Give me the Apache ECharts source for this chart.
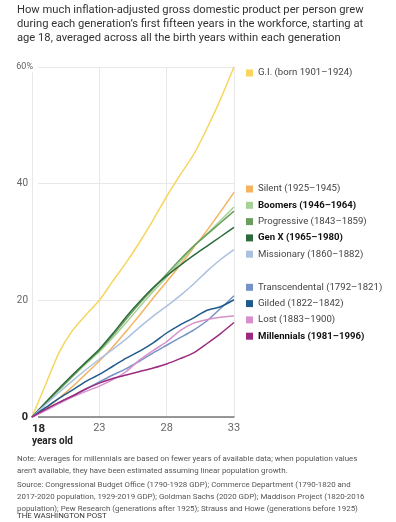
<!DOCTYPE html>
<html>
<head>
<meta charset="utf-8">
<script src="https://cdn.jsdelivr.net/npm/echarts@6/dist/echarts.min.js"></script>
<style>
  html, body { margin: 0; padding: 0; background: #fff; }
  #chart { width: 396px; height: 522px; }
</style>
</head>
<body>
<div id="chart"></div>
<script>
// age in the workforce (x axis)
const ages = [18, 19, 20, 21, 22, 23, 24, 25, 26, 27, 28, 29, 30, 31, 32, 33];

// cumulative GDP-per-person growth, percent
const giValues             = [0, 5.5, 11, 14.8, 17.5, 20, 23.3, 26.5, 30, 33.8, 37.8, 41.5, 45, 49.5, 54.5, 60];
const silentValues         = [0, 1.5, 3.2, 5.2, 7.4, 9.6, 12, 14.7, 17.5, 20.4, 23.2, 26, 29, 32, 35.2, 38.5];
const boomersValues        = [0, 2.3, 4.6, 6.9, 9.1, 11.2, 13.6, 16.2, 18.9, 21.5, 24, 26.6, 29.2, 31.4, 33.7, 36];
const progressiveValues    = [0, 2.3, 4.7, 7, 9.3, 11.4, 14, 16.8, 19.5, 22, 24.5, 27, 29.3, 31.3, 33.3, 35.3];
const genXValues           = [0, 2.5, 4.9, 7.2, 9.4, 11.6, 14.3, 17.2, 19.8, 22.2, 24.2, 26, 27.7, 29.3, 30.9, 32.5];
const missionaryValues     = [0, 2.1, 4.2, 6.2, 8.1, 9.9, 11.6, 13.4, 15.4, 17.3, 19, 20.8, 22.8, 25, 27, 28.7];
const transcendentalValues = [0, 1.2, 2.4, 3.6, 4.8, 6, 7.2, 8.3, 9.6, 11, 12.3, 13.6, 14.9, 16.5, 18.6, 20.8];
const gildedValues         = [0, 1.6, 3.2, 4.6, 6.1, 7.3, 8.7, 10.1, 11.3, 12.7, 14.4, 15.8, 17, 18.3, 18.9, 20.1];
const lostValues           = [0, 1.1, 2.3, 3.4, 4.4, 5.3, 6.4, 7.8, 9.8, 11.4, 12.9, 14.8, 16.1, 16.7, 17.1, 17.3];
const millennialsValues    = [0, 1.3, 2.5, 3.6, 4.8, 5.8, 6.6, 7.2, 7.8, 8.4, 9.1, 10, 11, 12.6, 14.3, 16.2];

const xTicks = [18, 23, 28, 33];
const yTicks = [0, 20, 40, 60];

const generations = [
  { name: 'G.I. (born 1901–1924)',     values: giValues,             color: '#f7d55e', bold: false },
  { name: 'Silent (1925–1945)',        values: silentValues,         color: '#f4b35f', bold: false },
  { name: 'Boomers (1946–1964)',       values: boomersValues,        color: '#a3d196', bold: true },
  { name: 'Progressive (1843–1859)',   values: progressiveValues,    color: '#6b9e5e', bold: false },
  { name: 'Gen X (1965–1980)',         values: genXValues,           color: '#2d6b3d', bold: true },
  { name: 'Missionary (1860–1882)',    values: missionaryValues,     color: '#abc1e0', bold: false },
  { name: 'Transcendental (1792–1821)', values: transcendentalValues, color: '#7593c4', bold: false },
  { name: 'Gilded (1822–1842)',        values: gildedValues,         color: '#1f5b8c', bold: false },
  { name: 'Lost (1883–1900)',          values: lostValues,           color: '#d790cb', bold: false },
  { name: 'Millennials (1981–1996)',   values: millennialsValues,    color: '#9c2b80', bold: true }
];

const legendItem = g => ({
  name: g.name,
  textStyle: g.bold ? { fontWeight: 'bold', color: '#111' } : {}
});

const legendBase = {
  orient: 'vertical',
  left: 241,
  icon: 'rect',
  itemWidth: 7,
  itemHeight: 7,
  itemGap: 3.3,
  selectedMode: false,
  textStyle: { fontFamily: 'Roboto', fontSize: 9.6, color: '#444', lineHeight: 13 }
};

const noteStyle = { fontFamily: 'Roboto', fontSize: 7.9, fontWeight: 'normal', color: '#555', lineHeight: 12 };

const myChart = echarts.init(document.getElementById('chart'));

const option = {
  animation: false,
  textStyle: { fontFamily: 'Roboto' },
  title: [
    {
      left: 17, top: 3, padding: 0,
      text: 'How much inflation-adjusted gross domestic product per person grew\n' +
            'during each generation’s first fifteen years in the workforce, starting at\n' +
            'age 18, averaged across all the birth years within each generation',
      textStyle: { fontFamily: 'Roboto', fontSize: 11.2, fontWeight: 'normal', color: '#333', lineHeight: 14 }
    },
    {
      left: 17, top: 453, padding: 0,
      text: 'Note: Averages for millennials are based on fewer years of available data; when population values\n' +
            'aren’t available, they have been estimated assuming linear population growth.',
      textStyle: noteStyle
    },
    {
      left: 17, top: 479, padding: 0,
      text: 'Source: Congressional Budget Office (1790-1928 GDP); Commerce Department (1790-1820 and\n' +
            '2017-2020 population, 1929-2019 GDP); Goldman Sachs (2020 GDP); Maddison Project (1820-2016\n' +
            'population); Pew Research (generations after 1925); Strauss and Howe (generations before 1925)',
      textStyle: noteStyle
    },
    {
      left: 17, top: 510, padding: 0,
      text: 'THE WASHINGTON POST',
      textStyle: Object.assign({}, noteStyle, { color: '#333' })
    }
  ],
  legend: [
    Object.assign({}, legendBase, { top: 61.5, data: generations.slice(0, 1).map(legendItem) }),
    Object.assign({}, legendBase, { top: 177.5, data: generations.slice(1, 6).map(legendItem) }),
    Object.assign({}, legendBase, { top: 275.8, data: generations.slice(6).map(legendItem) })
  ],
  grid: { left: 32, right: 162, top: 67, bottom: 105 },
  xAxis: [
    {
      type: 'value', min: 18, max: 33, interval: 5,
      axisLine: { show: true, onZero: false, lineStyle: { color: '#777', width: 1.5 } },
      axisTick: { show: false },
      splitLine: { show: true, lineStyle: { color: '#e8e8e8', width: 1 } },
      axisLabel: {
        margin: 6, fontSize: 11, color: '#666',
        showMinLabel: true, showMaxLabel: true,
        formatter: v => (v === xTicks[0] ? '' : String(v))
      }
    },
    {
      type: 'value', min: 18, max: 33, interval: 5, position: 'bottom',
      axisLine: { show: false }, axisTick: { show: false }, splitLine: { show: false },
      axisLabel: {
        margin: 6, align: 'left', lineHeight: 12,
        showMinLabel: true,
        formatter: v => (v === xTicks[0] ? '{b|' + v + '}\n{s|years old}' : ''),
        rich: {
          b: { fontSize: 11.5, fontWeight: 'bold', color: '#222', lineHeight: 12 },
          s: { fontSize: 10, fontWeight: 'bold', color: '#222', lineHeight: 12 }
        }
      }
    }
  ],
  yAxis: [
    {
      type: 'value', min: 0, max: 60, interval: 20, position: 'left',
      axisLine: { show: false }, axisTick: { show: false },
      splitLine: { show: true, lineStyle: { color: '#e8e8e8', width: 1 } },
      axisLabel: {
        margin: 4, fontSize: 10, color: '#666', align: 'right',
        formatter: v => (v === yTicks[3] ? '' : v === 0 ? '{b|0}' : String(v)),
        rich: { b: { fontSize: 11, fontWeight: 'bold', color: '#222' } }
      }
    },
    {
      type: 'value', min: 0, max: 60, interval: 20, position: 'left', offset: 0,
      axisLine: { show: false }, axisTick: { show: false }, splitLine: { show: false },
      axisLabel: {
        margin: -6, fontSize: 9, color: '#666', align: 'right',
        backgroundColor: '#fff', padding: [1, 5, 1, 0],
        showMaxLabel: true,
        formatter: v => (v === yTicks[3] ? v + '%' : '')
      }
    }
  ],
  series: generations.map(g => ({
    name: g.name,
    type: 'line',
    showSymbol: false,
    smooth: 0.25,
    color: g.color,
    lineStyle: { color: g.color, width: 1.5 },
    emphasis: { disabled: true },
    data: ages.map((a, i) => [a, g.values[i]])
  }))
};

myChart.setOption(option);
</script>
</body>
</html>
